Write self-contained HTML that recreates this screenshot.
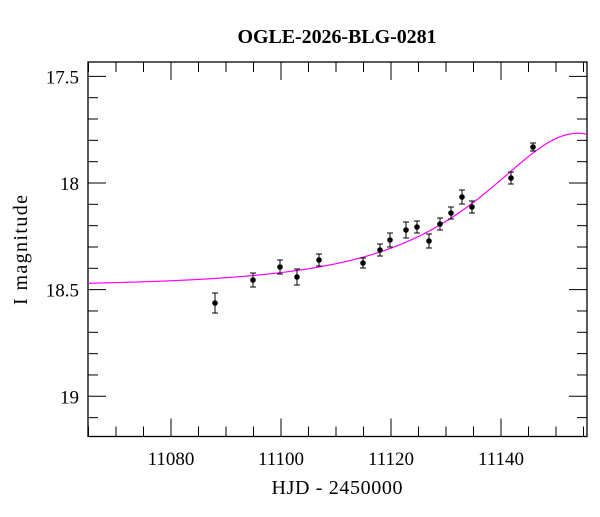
<!DOCTYPE html>
<html><head><style>
body{margin:0;background:#fff;}
svg text{font-family:"Liberation Serif",serif;fill:#000;}
</style></head><body>
<svg id="s" width="600" height="512" xmlns="http://www.w3.org/2000/svg">
<text x="337" y="43" font-size="20" font-weight="bold" text-anchor="middle" textLength="199">OGLE-2026-BLG-0281</text>
<text x="337" y="494" font-size="20" text-anchor="middle" textLength="131">HJD - 2450000</text>
<text transform="translate(27,250) rotate(-90)" font-size="20" text-anchor="middle" textLength="110">I magnitude</text>
<rect x="88" y="62" width="499" height="374.5" fill="none" stroke="#000" stroke-width="1.3"/>
<g id="ticks" stroke="#000" stroke-width="1"></g>
<g id="labs"></g>
<polyline id="curve" fill="none" stroke="#ff00ff" stroke-width="1.2"/>
<g id="pts"></g>
</svg>
<script>
var ns="http://www.w3.org/2000/svg";
function X(t){return 501+(t-11140)*5.5;}
function Y(m){return 183+(m-18)*213.3;}
var tk=document.getElementById('ticks'),lb=document.getElementById('labs');
function ln(g,x1,y1,x2,y2,c){var l=document.createElementNS(ns,'line');l.setAttribute('x1',x1);l.setAttribute('y1',y1);l.setAttribute('x2',x2);l.setAttribute('y2',y2);if(c)l.setAttribute('stroke',c);g.appendChild(l);}
function tx(g,x,y,s,a){var t=document.createElementNS(ns,'text');t.setAttribute('x',x);t.setAttribute('y',y);t.setAttribute('text-anchor',a);t.setAttribute('font-size','19');t.textContent=s;g.appendChild(t);}
for(var t=11065;t<=11155;t+=5){var x=X(t);var L=(t%20==0)?18:10;ln(tk,x,436.5,x,436.5-L);ln(tk,x,62,x,62+L);if(t%20==0)tx(lb,x,465,String(t),'middle');}
for(var i=175;i<=191;i++){var m=i/10;var y=Y(m);if(y<62||y>436.5)continue;var L=(i%5==0)?18:10;ln(tk,88,y,88+L,y);ln(tk,587,y,587-L,y);if(i%5==0)tx(lb,79,y+7,(m==18||m==19)?String(m):m.toFixed(1),'end');}
var p=[];for(var x=88;x<=587;x+=1){var t=11140+(x-501)/5.5;var tau=(t-11154)/28.4;var u=Math.sqrt(0.335+tau*tau);var A=(u*u+2)/(u*Math.sqrt(u*u+4));var m=18.485-2.5*Math.log10(A);p.push(x+','+(Y(m)).toFixed(2));}
document.getElementById('curve').setAttribute('points',p.join(' '));
var d=[[215,303,10],[253,280,7],[280,267,7],[297,277,8],[319,260,6],[363,263,5],[380,250,6],[390,240,7],[406,230,8],[417,227,6],[429,241,7],[440,224,6],[451,213,6],[462,197,7],[472,207,6],[511,178,6],[533,147,4]];
var g=document.getElementById('pts');
d.forEach(function(q){ln(g,q[0],q[1]-q[2],q[0],q[1]+q[2],'#000');ln(g,q[0]-3,q[1]-q[2],q[0]+3,q[1]-q[2],'#000');ln(g,q[0]-3,q[1]+q[2],q[0]+3,q[1]+q[2],'#000');var c=document.createElementNS(ns,'circle');c.setAttribute('cx',q[0]);c.setAttribute('cy',q[1]);c.setAttribute('r',2.8);g.appendChild(c);});
</script>
</body></html>
